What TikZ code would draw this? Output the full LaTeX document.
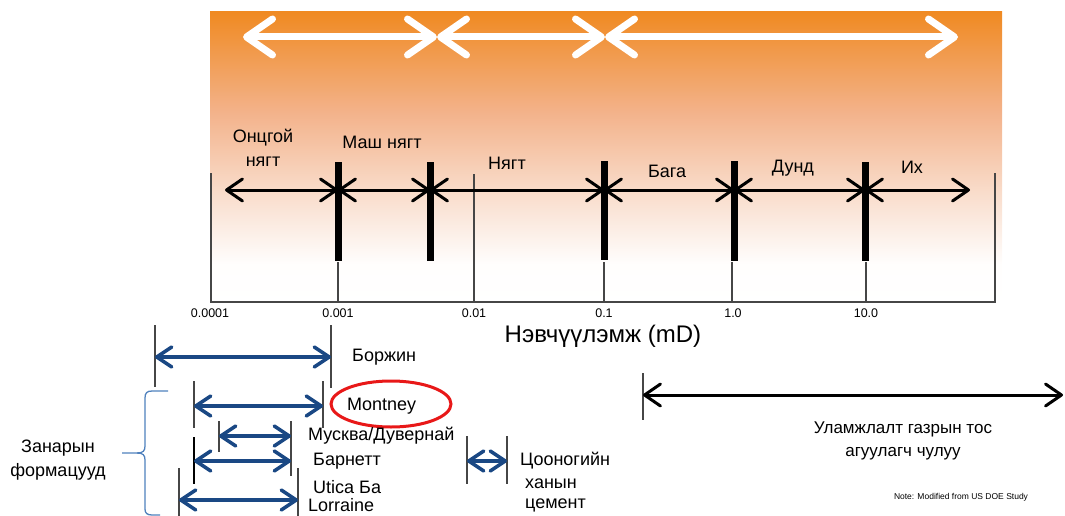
\documentclass[tikz,border=0pt]{standalone}
\usepackage{fontspec}
\setmainfont{Liberation Sans}
\usetikzlibrary{arrows.meta}
\definecolor{orng}{RGB}{240,138,34}
\definecolor{orc2}{RGB}{243,178,138}
\definecolor{orc3}{RGB}{249,221,204}
\definecolor{navy}{RGB}{26,72,132}
\definecolor{brc}{RGB}{79,129,189}
\definecolor{axgray}{RGB}{70,70,70}
\definecolor{ovred}{RGB}{232,24,24}
\pgfdeclareverticalshading{orsh}{100bp}{color(0bp)=(white); color(25bp)=(white); color(32bp)=(white!96!orc3); color(44bp)=(orc3); color(58bp)=(orc2); color(75bp)=(orng); color(100bp)=(orng)}
\begin{document}
\begin{tikzpicture}[x=1pt,y=-1pt,
  lbl/.style={font=\fontsize{18}{21}\selectfont, inner sep=0pt},
  axl/.style={font=\fontsize{12.5}{14}\selectfont, inner sep=0pt},
  thin/.style={axgray, line width=1.3pt},
  bar/.style={black, line width=7pt},
  wtarr/.style={white, line width=7pt, {Straight Barb[length=26pt,width=36pt,round]}-{Straight Barb[length=26pt,width=36pt,round]}},
  bkarr/.style={black, line width=3pt, {Straight Barb[length=16pt,width=22pt,round]}-{Straight Barb[length=16pt,width=22pt,round]}},
  blarr/.style={navy, line width=3.5pt, {Straight Barb[length=15pt,width=20pt,round]}-{Straight Barb[length=15pt,width=20pt,round]}},
  vl/.style={axgray, line width=1.4pt}]
\useasboundingbox (0,0) rectangle (1065,516);
% background gradient
\shade[shading=orsh] (210,12) rectangle (1002,305);
% top white arrows
\coordinate (w0) at (243,37);
\coordinate (w1) at (437,37);
\coordinate (w2) at (605,37);
\coordinate (w3) at (958,37);
\draw[wtarr] (w0) -- (w1);
\draw[wtarr] (w1) -- (w2);
\draw[wtarr] (w2) -- (w3);
% axis frame
\coordinate (ax0) at (211,302);
\coordinate (ax1) at (995,302);
\draw[thin] (211,173) -- (ax0) -- (ax1) -- (995,173);
% ticks
\coordinate (t1) at (338,302);
\coordinate (t2) at (474,302);
\coordinate (t3) at (604,302);
\coordinate (t4) at (732,302);
\coordinate (t5) at (866,302);
\draw[thin] (t1) -- (338,262);
\draw[thin] (t2) -- (474,174);
\draw[thin] (t3) -- (604,262);
\draw[thin] (t4) -- (732,262);
\draw[thin] (t5) -- (866,262);
% thick bars
\draw[bar] (338,162) -- (338,261);
\draw[bar] (430,162) -- (430,261);
\draw[bar] (604,161) -- (604,260);
\draw[bar] (734,161) -- (734,261);
\draw[bar] (865,162) -- (865,261);
% black arrows
\coordinate (a0) at (225,190);
\coordinate (a1) at (338,190);
\coordinate (a2) at (430,190);
\coordinate (a3) at (604,190);
\coordinate (a4) at (734,190);
\coordinate (a5) at (865,190);
\coordinate (a6) at (970,190);
\draw[bkarr] (a0) -- (a1);
\draw[bkarr] (a1) -- (a2);
\draw[bkarr] (a2) -- (a3);
\draw[bkarr] (a3) -- (a4);
\draw[bkarr] (a4) -- (a5);
\draw[bkarr] (a5) -- (a6);
% class labels
\node[lbl, align=center] (l1) at (263,148) {Онцгой\\[3pt]нягт};
\node[lbl] (l2) at (382,142) {Маш нягт};
\node[lbl] (l3) at (507,163) {Нягт};
\node[lbl] (l4) at (667,171) {Бага};
\node[lbl] (l5) at (793,168) {Дунд};
\node[lbl] (l6) at (912,167) {Их};
% axis labels
\node[axl] (x1) at (210,313) {0.0001};
\node[axl] (x2) at (338,313) {0.001};
\node[axl] (x3) at (474,313) {0.01};
\node[axl] (x4) at (604,313) {0.1};
\node[axl] (x5) at (733,313) {1.0};
\node[axl] (x6) at (866,313) {10.0};
\node[inner sep=0pt, font=\fontsize{24}{26}\selectfont] (title) at (603,336) {Нэвчүүлэмж (mD)};
% Боржин
\coordinate (s1) at (155,357);
\coordinate (s2) at (331,357);
\draw[vl] (155,325) -- (155,387);
\draw[vl] (331,325) -- (331,388);
\draw[blarr] (s1) -- (s2);
\node[lbl, anchor=west] (n1) at (352,357) {Боржин};
% Montney
\coordinate (m1) at (194,406);
\coordinate (m2) at (323,406);
\draw[vl] (194,381) -- (194,428);
\draw[vl] (323,381) -- (323,428);
\draw[blarr] (m1) -- (m2);
\node[lbl, anchor=west] (n2) at (347,406) {Montney};
\draw[ovred, line width=3pt] (391,404) ellipse [x radius=60pt, y radius=23pt];
% Мусква/Дувернай
\coordinate (k1) at (219,436);
\coordinate (k2) at (291,436);
\draw[vl] (219,421) -- (219,452);
\draw[vl] (291,421) -- (291,476);
\draw[blarr] (k1) -- (k2);
\node[lbl, anchor=west] (n3) at (308,436) {Мусква/Дувернай};
% Барнетт
\coordinate (b1) at (194,461);
\coordinate (b2) at (291,461);
\draw[black, line width=1.4pt] (194,437) -- (194,484);
\draw[blarr] (b1) -- (b2);
\node[lbl, anchor=west] (n4) at (313,461) {Барнетт};
% Utica
\coordinate (u1) at (179,500);
\coordinate (u2) at (298,500);
\draw[vl] (179,468) -- (179,516);
\draw[vl] (298,468) -- (298,516);
\draw[blarr] (u1) -- (u2);
\node[lbl, anchor=west] (n5) at (313,487) {Utica Ба};
\node[lbl, anchor=west] (n6) at (308,505) {Lorraine};
% cement
\coordinate (c1) at (467,461);
\coordinate (c2) at (507,461);
\draw[vl] (467,436) -- (467,484);
\draw[vl] (507,436) -- (507,484);
\draw[blarr] (c1) -- (c2);
\node[lbl, anchor=west] (n7) at (520,461) {Цооногийн};
\node[lbl, anchor=west] (n8) at (525,484) {ханын};
\node[lbl, anchor=west] (n9) at (525,505) {цемент};
% brace
\draw[brc, line width=1.3pt] (168,391) -- (152,391) .. controls (147,391) and (145,393) .. (145,398) -- (145,446) .. controls (145,451) and (143,453) .. (137,453) -- (122,453);
\draw[brc, line width=1.3pt] (137,453) .. controls (143,453) and (145,455) .. (145,460) -- (145,509) .. controls (145,513) and (147,515) .. (152,515) -- (160,515);
\node[lbl, align=center] (n10) at (58,460) {Занарын\\[3pt]формацууд};
% conventional
\coordinate (r1) at (643,395);
\coordinate (r2) at (1063,395);
\draw[vl] (643,373) -- (643,420);
\draw[black, line width=3pt, {Straight Barb[length=16pt,width=22pt,round]}-{Straight Barb[length=16pt,width=22pt,round]}] (r1) -- (r2);
\node[lbl, align=center, font=\fontsize{17}{20}\selectfont] (n11) at (903,441) {Уламжлалт газрын тос\\[3pt]агуулагч чулуу};
\node[inner sep=0pt, font=\fontsize{8.5}{10}\selectfont] (note) at (961,497) {Note: Modified from US DOE Study};
\end{tikzpicture}
\end{document}
